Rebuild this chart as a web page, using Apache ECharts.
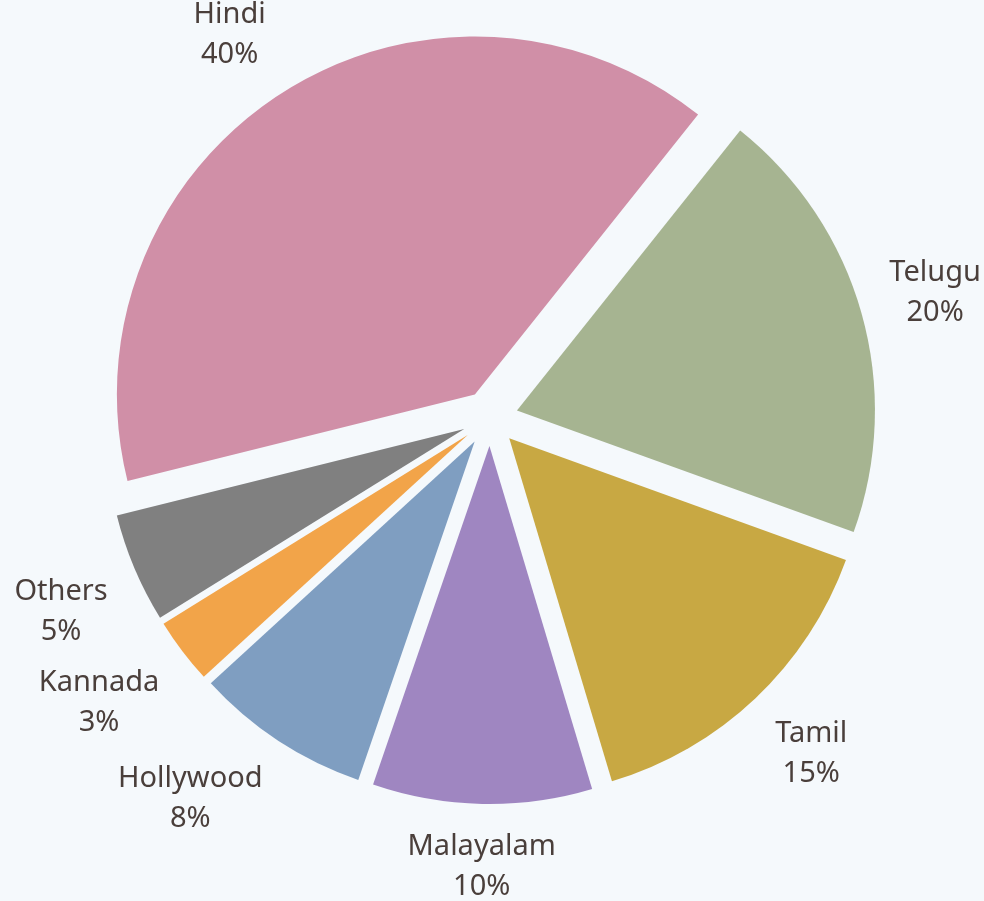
<!DOCTYPE html>
<html>
<head>
<meta charset="utf-8">
<style>
  html, body { margin: 0; padding: 0; background: #F5F9FC; }
  #main { width: 984px; height: 901px; }
</style>
<script src="https://cdn.jsdelivr.net/npm/echarts@6/dist/echarts.min.js"></script>
</head>
<body>
<div id="main"></div>
<script>
const categories = ['Hindi', 'Telugu', 'Tamil', 'Malayalam', 'Hollywood', 'Kannada', 'Others']
const shares = [40, 20, 15, 10, 8, 3, 5]
const colors = ['#D08FA7', '#A6B491', '#C8A843', '#9F86C1', '#7F9EC1', '#F2A449', '#808080']

let myChart = echarts.init(document.getElementById('main'))

let pieData = categories.map(function (name, i) {
    return {
        name: name,
        value: shares[i],
        selected: true,
        itemStyle: { color: colors[i] },
        select: { itemStyle: { color: colors[i] } }
    }
})

// second (invisible) ring only carries the labels
let labelData = categories.map(function (name, i) {
    return { name: name, value: shares[i] }
})

let center = [490, 418]
let labelR = 412

// push each label box outward so its near corner/edge sits on the label ring
function ramp(t) {
    return Math.min(1, Math.max(0, (t - 0.2) / 0.2))
}

let options = {
    backgroundColor: '#F5F9FC',
    animation: false,
    series: [{
        type: 'pie',
        center: center,
        radius: [0, 358],
        startAngle: 194,
        selectedMode: 'multiple',
        selectedOffset: 28,
        silent: true,
        label: { show: false },
        labelLine: { show: false },
        data: pieData
    }, {
        type: 'pie',
        center: center,
        radius: [labelR - 10, labelR + 10],
        startAngle: 194,
        silent: true,
        itemStyle: { color: 'rgba(0,0,0,0)' },
        label: {
            show: true,
            position: 'inside',
            formatter: '{b}\n{c}%',
            color: '#4A3F3B',
            fontFamily: 'Noto Sans',
            fontSize: 29,
            lineHeight: 40,
            align: 'center'
        },
        labelLine: { show: false },
        labelLayout: function (params) {
            let r = params.labelRect
            let px = r.x + r.width / 2
            let py = r.y + r.height / 2
            let ux = (px - center[0]) / labelR
            let uy = (py - center[1]) / labelR
            return {
                x: px + Math.sign(ux) * r.width / 2 * ramp(Math.abs(ux)),
                y: py + Math.sign(uy) * r.height / 2 * 0.85 * ramp(Math.abs(uy)),
                align: 'center',
                verticalAlign: 'middle'
            }
        },
        data: labelData
    }]
}

myChart.setOption(options)
</script>
</body>
</html>
